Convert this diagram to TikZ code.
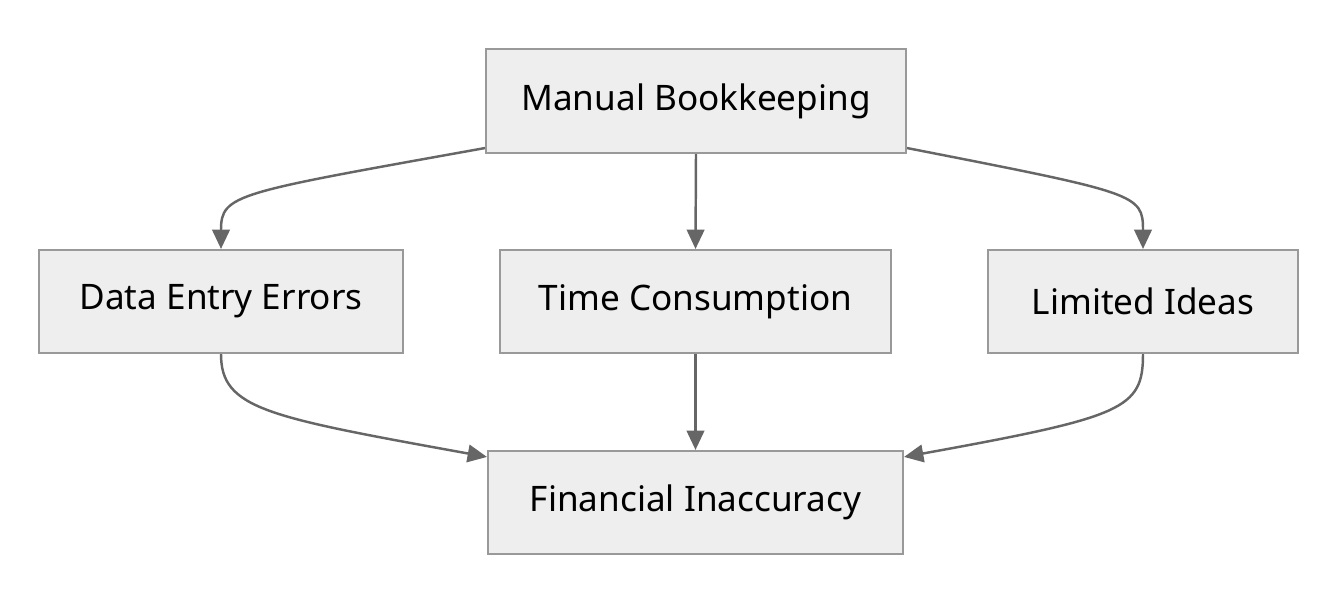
\documentclass[tikz,border=0pt]{standalone}
\usepackage{fontspec}
\setmainfont{Noto Sans}
\usetikzlibrary{arrows.meta,positioning}
\definecolor{boxFill}{RGB}{238,238,238}
\definecolor{boxLine}{RGB}{153,153,153}
\definecolor{arrowLine}{RGB}{102,102,102}
\tikzset{
  stepbox/.style={draw=boxLine,fill=boxFill,line width=1.2pt,inner sep=0pt,
    font=\fontsize{20}{24}\selectfont},
  flow/.style={draw=arrowLine,line width=1.4pt,-{Triangle[length=11pt,width=10pt]}}
}
\begin{document}
\begin{tikzpicture}[x=0.02cm,y=-0.02cm]
  \useasboundingbox (0,0) rectangle (1336,604);
  % Boxes
  \node[stepbox,minimum width=420*0.02cm,minimum height=104*0.02cm] (mb) at (696,101) {Manual Bookkeeping};
  \node[stepbox,minimum width=364*0.02cm,minimum height=103*0.02cm] (de) at (221,301.5) {Data Entry Errors};
  \node[stepbox,minimum width=391*0.02cm,minimum height=103*0.02cm] (tc) at (695.5,301.5) {Time Consumption};
  \node[stepbox,minimum width=310*0.02cm,minimum height=103*0.02cm] (li) at (1143,301.5) {Limited Ideas};
  \node[stepbox,minimum width=415*0.02cm,minimum height=103*0.02cm] (fi) at (695.5,502.5) {Financial Inaccuracy};
  % Top arrows
  \draw[flow] ([yshift=0.12cm]mb.south west) .. controls +(-250,45) and +(0,-55) .. (de.north);
  \draw[flow] (mb.south) -- (tc.north);
  \draw[flow] ([yshift=0.12cm]mb.south east) .. controls +(230,45) and +(0,-55) .. (li.north);
  % Bottom arrows
  \draw[flow] (de.south) .. controls +(0,55) and +(-220,-40) .. ([yshift=-0.14cm]fi.north west);
  \draw[flow] (tc.south) -- (fi.north);
  \draw[flow] (li.south) .. controls +(0,55) and +(220,-40) .. ([yshift=-0.14cm]fi.north east);
\end{tikzpicture}
\end{document}
